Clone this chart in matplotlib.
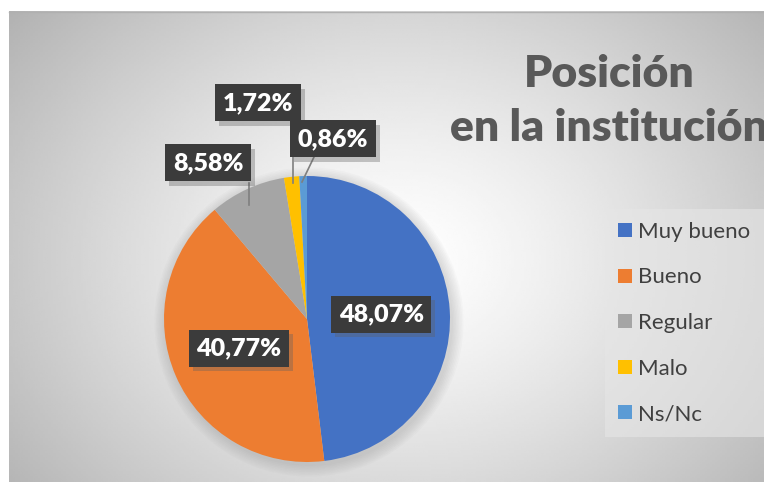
import matplotlib.pyplot as plt
import matplotlib.patheffects as pe
import numpy as np

plt.rcParams['font.family'] = ['Lato', 'DejaVu Sans']

categories = ['Muy bueno', 'Bueno', 'Regular', 'Malo', 'Ns/Nc']
values = [48.07, 40.77, 8.58, 1.72, 0.86]
colors = ['#4472C4', '#ED7D31', '#A5A5A5', '#FFC000', '#5B9BD5']
title = 'Posición\nen la institución'

W, H = 764, 486


def py(y):
    # pixel y (from top) -> data y
    return H - y


fig = plt.figure(figsize=(W / 100, H / 100), dpi=100)
fig.patch.set_facecolor('white')
ax = fig.add_axes([0, 0, 1, 1])

# pie
cx, cy, r = 307, 319, 143
wedges, _ = ax.pie(values, colors=colors, startangle=90, counterclock=False,
                   center=(cx, py(cy)), radius=r, frame=True,
                   wedgeprops=dict(linewidth=0))
for w in wedges:
    w.set_zorder(3)

# soft shadow under the pie
for i in range(8):
    ax.add_patch(plt.Circle((cx + 2, py(cy) - 3), r + 1 + i * 1.5, color='#808080',
                            alpha=0.035, lw=0, zorder=2))

# chart area background, radial gradient
x0, y0, x1, y1 = 9, 12, 764, 482
gx = np.linspace(x0, x1, 300)
gy = np.linspace(y0, y1, 200)
GX, GY = np.meshgrid(gx, gy)
d = np.sqrt(((GX - 400) / 420) ** 2 + ((GY - 260) / 330) ** 2)
shade = 1.0 - 0.24 * np.clip(d, 0, 1.2) ** 1.3
ax.imshow(shade, cmap='gray', vmin=0, vmax=1, extent=(x0, x1, py(y1), py(y0)),
          origin='upper', zorder=0, interpolation='bilinear', aspect='auto')
ax.plot([x0, x1], [py(y0), py(y0)], color='#b0b0b0', lw=1, zorder=1)

ax.set_xlim(0, W)
ax.set_ylim(0, H)
ax.set_aspect('auto')
ax.axis('off')

# data labels
labels = [f'{v:.2f}'.replace('.', ',') + '%' for v in values]
inside_r = [0.52, 0.52]
outside_pos = [(208, 163), (258, 103), (333, 139)]
leaders = [((249, 183), (249, 205)), ((293, 122), (293, 183)), ((314, 157), (302, 182))]

angles = []
start = 90.0
for v in values:
    span = 360.0 * v / sum(values)
    angles.append(np.deg2rad(start - span / 2))
    start -= span

positions = []
for i in range(len(values)):
    if i < 2:
        a = angles[i]
        positions.append((cx + inside_r[i] * r * np.cos(a), py(cy) + inside_r[i] * r * np.sin(a)))
    else:
        px, pyy = outside_pos[i - 2]
        positions.append((px, py(pyy)))

for (p0, p1) in leaders:
    ax.plot([p0[0], p1[0]], [py(p0[1]), py(p1[1])], color='#7f7f7f', lw=1.2, zorder=4)

for (x, y), lab in zip(positions, labels):
    t = ax.text(x, y, lab, ha='center', va='center', fontsize=18, fontweight='heavy',
                color='white', zorder=6,
                bbox=dict(boxstyle='square,pad=0.3', facecolor='#3b3b3b',
                          edgecolor='none', linewidth=0))
    t.get_bbox_patch().set_path_effects([
        pe.SimplePatchShadow(offset=(3, -3), shadow_rgbFace='#606060', alpha=0.35),
        pe.Normal()])

# title
fig.text(609 / W, 1 - 101 / H, title, ha='center', va='center', fontsize=32,
         fontweight='heavy', color='#595959', linespacing=1.45)

# legend
leg = ax.legend(wedges, categories, loc='center left',
                bbox_to_anchor=(594 / W, 1 - 323 / H), bbox_transform=fig.transFigure,
                frameon=True, fontsize=16, labelspacing=1.15, handlelength=0.6,
                handleheight=0.6, handletextpad=0.3, borderpad=0.6,
                labelcolor='#404040', fancybox=False)
leg.get_frame().set_facecolor('#e6e6e6')
leg.get_frame().set_alpha(0.6)
leg.get_frame().set_linewidth(0)

fig.savefig('out.png', dpi=100)
